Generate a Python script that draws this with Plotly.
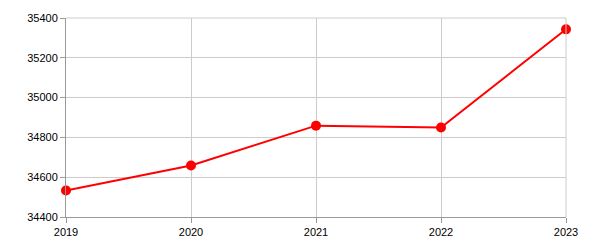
import plotly.graph_objects as go

years = [2019, 2020, 2021, 2022, 2023]
values = [34533, 34659, 34859, 34850, 35343]
y_ticks = [34400, 34600, 34800, 35000, 35200, 35400]

fig = go.Figure()
fig.add_trace(go.Scatter(
    x=years, y=values, mode="lines+markers",
    line=dict(color="#ff0000", width=2),
    marker=dict(color="#ff0000", size=10),
    cliponaxis=False,
))

axis_common = dict(
    showline=True, linecolor="#999999", linewidth=1,
    showgrid=True, gridcolor="#cccccc", gridwidth=1,
    ticks="outside", ticklen=5, tickcolor="#999999",
    tickfont=dict(family="Liberation Sans, Arial", size=11, color="#000000"),
    zeroline=False,
)

fig.update_layout(
    width=600, height=250,
    margin=dict(l=66, r=34, t=15, b=33),
    plot_bgcolor="white", paper_bgcolor="white",
    showlegend=False,
    xaxis=dict(range=[2019, 2023], tickmode="array", tickvals=years,
               ticktext=[str(y) for y in years], mirror=False, **axis_common),
    yaxis=dict(range=[34400, 35400], tickmode="array", tickvals=y_ticks,
               ticktext=[str(v) for v in y_ticks], **axis_common),
)
fig.add_shape(type="line", xref="paper", yref="paper", x0=1, x1=1, y0=0, y1=1,
              line=dict(color="#cccccc", width=1))
fig.add_shape(type="line", xref="paper", yref="paper", x0=0, x1=1, y0=1, y1=1,
              line=dict(color="#cccccc", width=1))

fig.write_html("out.html")
